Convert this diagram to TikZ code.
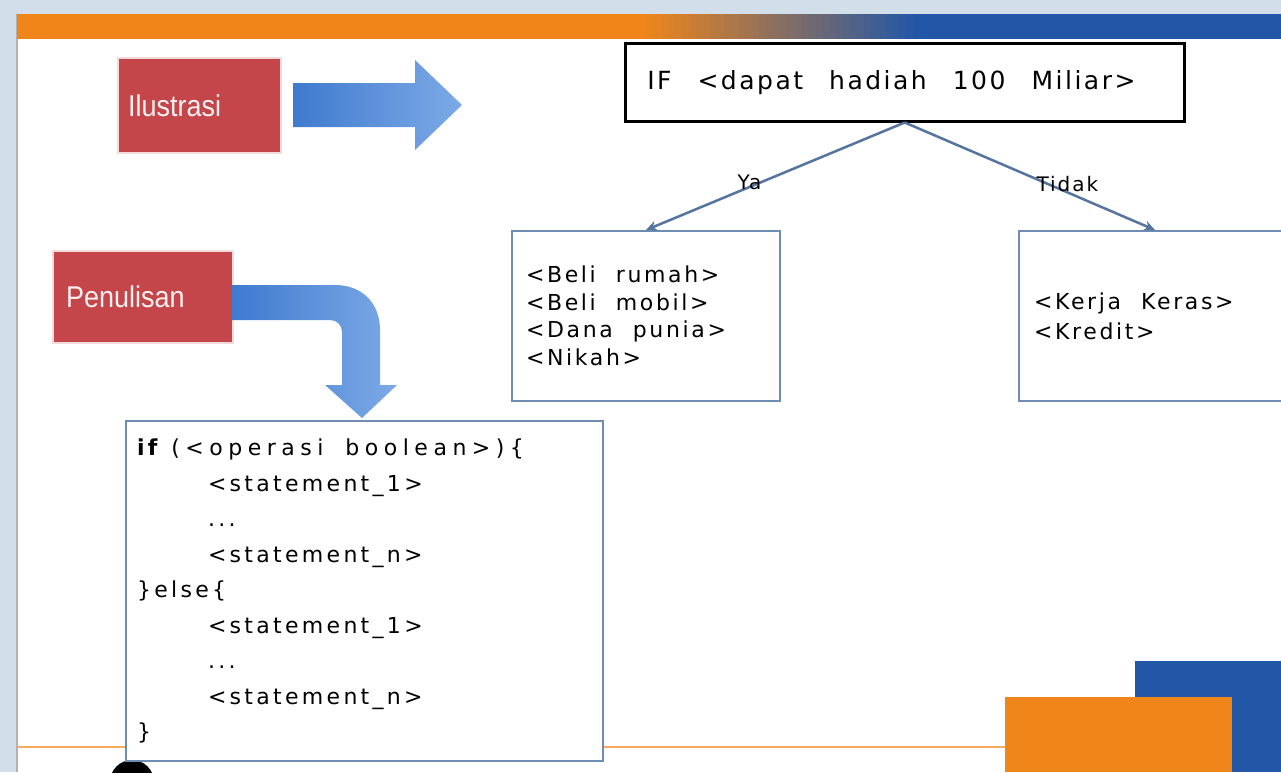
\documentclass[tikz,border=0pt]{standalone}
\usepackage{fontspec}
\setmainfont{DejaVu Sans}
\newfontfamily\tagfont[FakeStretch=0.9]{Liberation Sans}
\newfontfamily\boxfont[LetterSpace=12]{DejaVu Sans}
\newfontfamily\iffont[LetterSpace=10]{DejaVu Sans}
\newfontfamily\codefont[LetterSpace=15]{DejaVu Sans}
\newfontfamily\condfont[LetterSpace=25]{DejaVu Sans}
\usepackage{xcolor}
\usepackage{tikz}
\usetikzlibrary{positioning,arrows.meta}
\definecolor{slidebg}{HTML}{D2DFEA}
\definecolor{barorange}{HTML}{F0861A}
\definecolor{barblue}{HTML}{2257A8}
\definecolor{tagred}{HTML}{C4464A}
\definecolor{arrowblue}{HTML}{3F7ACF}
\definecolor{arrowlight}{HTML}{7DAAE6}
\definecolor{linkblue}{HTML}{5674A0}
\definecolor{boxedge}{HTML}{6F8CB4}

\tikzset{
  tag/.style={fill=tagred, draw=tagred!20, line width=2pt, text=white!92!tagred,
    font=\tagfont\fontsize{30}{30}\selectfont, align=left, anchor=north west},
  outbox/.style={draw=boxedge, line width=2pt, fill=white, anchor=north west,
    align=left, font=\boxfont\fontsize{22}{27.5}\selectfont},
  link/.style={draw=linkblue, line width=2.5pt, -{Stealth[length=11pt,width=10pt]}},
  linklabel/.style={font=\iffont\fontsize{20}{20}\selectfont, text=black, inner sep=0pt}
}
\newcommand{\gap}{\hspace{20pt}}

\begin{document}
\begin{tikzpicture}[x=1pt,y=-1pt]
  \clip (0,0) rectangle (1281,772);
  \fill[slidebg] (0,0) rectangle (1281,772);
  % slide
  \fill[white] (17,14) rectangle (1281,772);
  \draw[gray!60, line width=1.5pt] (17,14) -- (17,772);
  \fill[barorange] (17,14) rectangle (641,38.5);
  \foreach \i in {0,...,39}
    \fill[barblue!\the\numexpr\i*100/39\relax!barorange] (640+7*\i,14) rectangle (648+7*\i,38.5);
  \fill[barblue] (920,14) rectangle (1281,38.5);
  \draw[barorange!70, line width=2pt] (17,747) -- (1005,747);
  \fill[barblue] (1135,661) rectangle (1281,772);
  \fill[barorange] (1005,697) rectangle (1232,772);
  \fill[black] (132,782) circle (22);

  % labels on the left
  \node[tag, inner xsep=10pt, text width=143pt, minimum height=95pt] (ilus) at (117,57) {Ilustrasi};
  \node[tag, inner xsep=13pt, text width=154pt, minimum height=92pt] (tulis) at (52,250) {Penulisan};

  % block arrows
  \shade[left color=arrowblue, right color=arrowlight]
    (293,83) -- (415,83) -- (415,60) -- (462,105) -- (415,150) -- (415,127) -- (293,127) -- cycle;
  \shade[left color=arrowblue, right color=arrowlight]
    (232,285) -- (335,285) .. controls (362,285) and (380,303) .. (380,330)
    -- (380,385) -- (397,385) -- (362,418) -- (325,385) -- (342,385)
    -- (342,332) .. controls (342,325) and (337,320) .. (330,320)
    -- (232,320) -- cycle;

  % condition tree
  \node[draw=black, line width=2.5pt, fill=white, anchor=north west, minimum height=78pt,
    inner xsep=22pt, text width=515pt, align=left,
    font=\iffont\fontsize{25}{25}\selectfont] (kond) at (624,42)
    {IF\hspace{26pt}<dapat\hspace{26pt}hadiah\hspace{26pt}100\hspace{26pt}Miliar>};
  \node[outbox, minimum height=170pt, inner xsep=14pt, text width=240pt] (ya) at (511,230)
    {<Beli\gap rumah>\\<Beli\gap mobil>\\<Dana\gap punia>\\<Nikah>};
  \node[outbox, minimum height=170pt, inner xsep=15pt, text width=242pt,
    font=\boxfont\fontsize{22}{30}\selectfont] (tidak) at (1018,230)
    {<Kerja\gap Keras>\\<Kredit>};
  \draw[link] (kond.south) -- node[linklabel, pos=0.6, yshift=5pt] {Ya} (ya.north);
  \draw[link] (kond.south) -- node[linklabel, pos=0.65, yshift=8pt] {Tidak} (tidak.north);

  % syntax
  \node[draw=boxedge, line width=2pt, fill=white, anchor=north west, minimum height=340pt,
    inner xsep=11pt, text width=455pt, align=left,
    font=\codefont\fontsize{22}{35.5}\selectfont] (kode) at (125,420)
    {{\bfseries if}\hspace{14pt}{\condfont(<operasi\hspace{22pt}boolean>)\{}\\
     \hspace*{71pt}<statement\_1>\\
     \hspace*{71pt}...\\
     \hspace*{71pt}<statement\_n>\\
     \}else\{\\
     \hspace*{71pt}<statement\_1>\\
     \hspace*{71pt}...\\
     \hspace*{71pt}<statement\_n>\\
     \}};
\end{tikzpicture}
\end{document}
